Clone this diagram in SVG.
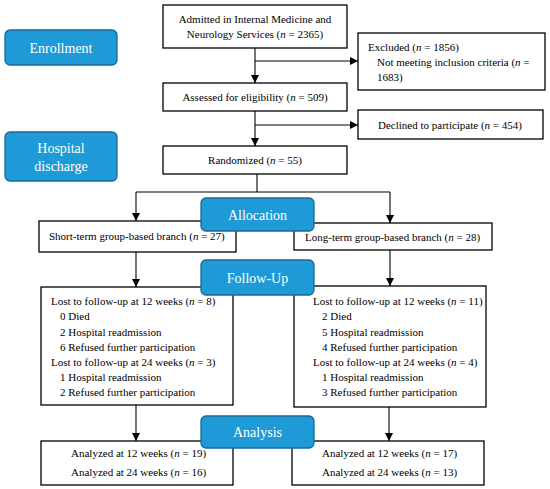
<svg xmlns="http://www.w3.org/2000/svg" width="550" height="489" viewBox="0 0 550 489">
<defs>
<marker id="ah" viewBox="0 0 10 10" refX="10" refY="5" markerWidth="8" markerHeight="8" markerUnits="userSpaceOnUse" orient="auto">
<path d="M0,0 L10,5 L0,10 z" fill="#000"/>
</marker>
<style>
.box{fill:#fff;stroke:#000;stroke-width:1.3}
.lab{fill:#1e9ad6;stroke:#17699a;stroke-width:1.3}
.t{font-family:"Liberation Serif","Times New Roman",serif;font-size:11px;fill:#000}
.lt{font-family:"Liberation Serif","Times New Roman",serif;font-size:14px;fill:#fff;text-anchor:middle}
.c{text-anchor:middle}
.ln{stroke:#000;stroke-width:1.1;fill:none}
.ar{stroke:#000;stroke-width:1.1;fill:none;marker-end:url(#ah)}
</style>
</defs>
<rect width="550" height="489" fill="#fff"/>
<g id="connectors">
<line class="ar" x1="255" y1="48" x2="255" y2="83"/>
<line class="ar" x1="255" y1="61" x2="358" y2="61"/>
<line class="ar" x1="255" y1="111" x2="255" y2="146"/>
<line class="ar" x1="255" y1="125" x2="358" y2="125"/>
<line class="ln" x1="257" y1="174" x2="257" y2="192"/>
<line class="ln" x1="136" y1="192" x2="390" y2="192"/>
<line class="ar" x1="136" y1="192" x2="136" y2="221"/>
<line class="ar" x1="390" y1="192" x2="390" y2="223"/>
<line class="ar" x1="136" y1="252" x2="136" y2="287"/>
<line class="ar" x1="390" y1="250" x2="390" y2="286"/>
<line class="ar" x1="136" y1="405" x2="136" y2="441"/>
<line class="ar" x1="389" y1="407" x2="389" y2="441"/>
</g>
<g id="admitted">
<rect class="box" x="163" y="5" width="184" height="43"/>
<text class="t c" x="255" y="23">Admitted in Internal Medicine and</text>
<text class="t c" x="255" y="38">Neurology Services (<tspan font-style="italic">n</tspan> = 2365)</text>
</g>
<g id="excluded">
<rect class="box" x="358" y="33" width="187" height="57"/>
<text class="t" x="368" y="51">Excluded (<tspan font-style="italic">n</tspan> = 1856)</text>
<text class="t" x="377" y="66">Not meeting inclusion criteria (<tspan font-style="italic">n</tspan> =</text>
<text class="t" x="377" y="81">1683)</text>
</g>
<g id="assessed">
<rect class="box" x="163" y="83" width="184" height="28"/>
<text class="t c" x="255" y="101">Assessed for eligibility (<tspan font-style="italic">n</tspan> = 509)</text>
</g>
<g id="declined">
<rect class="box" x="358" y="110" width="185" height="29"/>
<text class="t c" x="450" y="129">Declined to participate (<tspan font-style="italic">n</tspan> = 454)</text>
</g>
<g id="randomized">
<rect class="box" x="163" y="146" width="184" height="28"/>
<text class="t c" x="255" y="164">Randomized (<tspan font-style="italic">n</tspan> = 55)</text>
</g>
<g id="short-term">
<rect class="box" x="39" y="221" width="197" height="31"/>
<text class="t" x="49" y="240">Short-term group-based branch (<tspan font-style="italic">n</tspan> = 27)</text>
</g>
<g id="long-term">
<rect class="box" x="294" y="223" width="198" height="27"/>
<text class="t" x="305" y="241">Long-term group-based branch (<tspan font-style="italic">n</tspan> = 28)</text>
</g>
<g id="followup-short">
<rect class="box" x="41" y="287" width="192" height="118"/>
<text class="t" x="51" y="305">Lost to follow-up at 12 weeks (<tspan font-style="italic">n</tspan> = 8)</text>
<text class="t" x="60" y="320">0 Died</text>
<text class="t" x="60" y="335.5">2 Hospital readmission</text>
<text class="t" x="60" y="351">6 Refused further participation</text>
<text class="t" x="51" y="366">Lost to follow-up at 24 weeks (<tspan font-style="italic">n</tspan> = 3)</text>
<text class="t" x="60" y="381">1 Hospital readmission</text>
<text class="t" x="60" y="396">2 Refused further participation</text>
</g>
<g id="followup-long">
<rect class="box" x="294" y="286" width="192" height="121"/>
<text class="t" x="313" y="305">Lost to follow-up at 12 weeks (<tspan font-style="italic">n</tspan> = 11)</text>
<text class="t" x="322" y="320">2 Died</text>
<text class="t" x="322" y="335.5">5 Hospital readmission</text>
<text class="t" x="322" y="351">4 Refused further participation</text>
<text class="t" x="313" y="366">Lost to follow-up at 24 weeks (<tspan font-style="italic">n</tspan> = 4)</text>
<text class="t" x="322" y="381">1 Hospital readmission</text>
<text class="t" x="322" y="396">3 Refused further participation</text>
</g>
<g id="analysis-short">
<rect class="box" x="41" y="441" width="192" height="44"/>
<text class="t" x="71" y="457">Analyzed at 12 weeks (<tspan font-style="italic">n</tspan> = 19)</text>
<text class="t" x="71" y="476">Analyzed at 24 weeks (<tspan font-style="italic">n</tspan> = 16)</text>
</g>
<g id="analysis-long">
<rect class="box" x="292" y="441" width="192" height="44"/>
<text class="t" x="322" y="457">Analyzed at 12 weeks (<tspan font-style="italic">n</tspan> = 17)</text>
<text class="t" x="322" y="476">Analyzed at 24 weeks (<tspan font-style="italic">n</tspan> = 13)</text>
</g>
<g id="label-enrollment">
<rect class="lab" x="5" y="30" width="112" height="35" rx="5"/>
<text class="lt" x="61" y="53">Enrollment</text>
</g>
<g id="label-discharge">
<rect class="lab" x="5" y="132" width="112" height="49" rx="5"/>
<text class="lt" x="61" y="153">Hospital</text>
<text class="lt" x="61" y="171">discharge</text>
</g>
<g id="label-allocation">
<rect class="lab" x="201" y="198" width="113" height="33" rx="5"/>
<text class="lt" x="257.5" y="220">Allocation</text>
</g>
<g id="label-followup">
<rect class="lab" x="201" y="260" width="113" height="35" rx="5"/>
<text class="lt" x="257.5" y="283">Follow-Up</text>
</g>
<g id="label-analysis">
<rect class="lab" x="201" y="416" width="113" height="32" rx="5"/>
<text class="lt" x="257.5" y="437">Analysis</text>
</g>
</svg>
